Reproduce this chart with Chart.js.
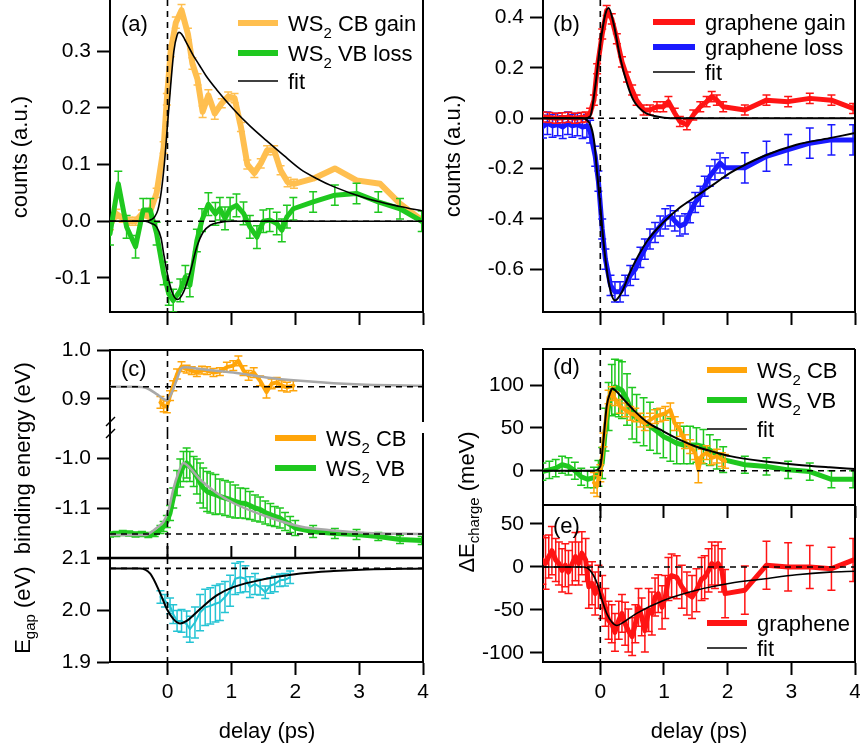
<!DOCTYPE html>
<html>
<head>
<meta charset="utf-8">
<title>WS2 / graphene charge transfer dynamics</title>
<script src="https://cdn.jsdelivr.net/npm/chart.js@4.4.1/dist/chart.umd.min.js"></script>
<style>
  body { margin: 0; background: #fff; }
  #fig { position: relative; width: 860px; height: 751px; }
  #fig canvas { position: absolute; top: 0; }
  .left { left: 0; }
  .right { left: 430px; }
</style>
</head>
<body>
<div id="fig">
  <canvas id="pa" class="left" width="430" height="751"></canvas>
  <canvas id="pcCB" class="left" width="430" height="751"></canvas>
  <canvas id="pcVB" class="left" width="430" height="751"></canvas>
  <canvas id="pcGap" class="left" width="430" height="751"></canvas>
  <canvas id="pb" class="right" width="430" height="751"></canvas>
  <canvas id="pd" class="right" width="430" height="751"></canvas>
  <canvas id="pe" class="right" width="430" height="751"></canvas>
</div>
<script>
// ---------- data (delay in ps) ----------
const delayTicks = [0, 1, 2, 3, 4];

// (a) WS2 CB gain / VB loss, counts (a.u.)
const aTicks = [-0.1, 0, 0.1, 0.2, 0.3];
const aCbDelay = [-0.9, -0.8, -0.7, -0.6, -0.5, -0.4, -0.3, -0.17, -0.06, -0.01, 0.05, 0.13, 0.22, 0.32, 0.39, 0.47, 0.55, 0.64, 0.74, 0.85, 0.95, 1.05, 1.15, 1.25, 1.36, 1.46, 1.56, 1.67, 1.77, 1.88, 1.98, 2.28, 2.62, 2.96, 3.33, 3.64, 3.98];
const aCbGain = [-0.007, 0.013, 0.005, 0.0, 0.0, 0.013, 0.008, 0.05, 0.13, 0.215, 0.3, 0.35, 0.372, 0.33, 0.278, 0.25, 0.193, 0.222, 0.19, 0.208, 0.22, 0.217, 0.166, 0.1, 0.085, 0.102, 0.125, 0.125, 0.09, 0.069, 0.066, 0.075, 0.093, 0.072, 0.066, 0.031, 0.002];
const aCbErr = [0.008, 0.008, 0.007, 0.007, 0.007, 0.007, 0.007, 0.008, 0.01, 0.01, 0.01, 0.01, 0.01, 0.01, 0.01, 0.01, 0.01, 0.01, 0.01, 0.008, 0.008, 0.008, 0.008, 0.008, 0.008, 0.008, 0.008, 0.008, 0.008, 0.008, 0.008, 0, 0, 0, 0, 0, 0];
const aVbDelay = [-0.9, -0.77, -0.64, -0.5, -0.38, -0.27, -0.17, -0.06, 0.02, 0.09, 0.2, 0.28, 0.35, 0.46, 0.54, 0.64, 0.75, 0.82, 0.9, 0.98, 1.08, 1.19, 1.29, 1.4, 1.5, 1.6, 1.71, 1.79, 1.87, 1.97, 2.28, 2.62, 2.96, 3.3, 3.64, 3.98];
const aVbLoss = [-0.022, 0.066, -0.01, -0.045, 0.02, 0.02, -0.022, -0.092, -0.128, -0.14, -0.122, -0.098, -0.113, -0.034, 0.002, 0.03, 0.013, 0.022, 0.005, 0.022, 0.028, 0.014, -0.01, -0.028, 0.0, 0.002, -0.004, -0.016, 0.008, 0.022, 0.034, 0.046, 0.049, 0.034, 0.022, 0.0];
const aVbErr = [0.02, 0.022, 0.02, 0.02, 0.02, 0.02, 0.02, 0.02, 0.02, 0.02, 0.02, 0.02, 0.02, 0.02, 0.02, 0.02, 0.02, 0.02, 0.02, 0.02, 0.02, 0.02, 0.02, 0.02, 0.02, 0.02, 0.02, 0.02, 0.02, 0.02, 0.018, 0.018, 0.018, 0.018, 0.018, 0.018];
const aFitCbDelay = [-0.9, -0.4, -0.3, -0.25, -0.2, -0.15, -0.1, -0.05, 0, 0.05, 0.1, 0.15, 0.18, 0.22, 0.3, 0.4, 0.5, 0.6, 0.77, 1.03, 1.29, 1.55, 1.82, 2.08, 2.34, 2.6, 3.12, 3.64, 4.0];
const aFitCb = [0, 0, 0.001, 0.003, 0.008, 0.02, 0.05, 0.1, 0.17, 0.24, 0.3, 0.328, 0.333, 0.33, 0.314, 0.293, 0.275, 0.257, 0.232, 0.198, 0.168, 0.142, 0.116, 0.092, 0.075, 0.061, 0.04, 0.026, 0.018];
const aFitVbDelay = [-0.9, -0.35, -0.25, -0.17, -0.1, -0.06, 0.02, 0.09, 0.16, 0.25, 0.35, 0.46, 0.56, 0.67, 0.82, 1.0, 4.0];
const aFitVb = [0, 0, -0.004, -0.01, -0.03, -0.057, -0.104, -0.13, -0.138, -0.125, -0.092, -0.045, -0.019, -0.007, -0.002, 0, 0];

// (b) graphene gain / loss, counts (a.u.)
const bTicks = [-0.6, -0.4, -0.2, 0, 0.2, 0.4];
const bGainDelay = [-0.9, -0.8, -0.7, -0.6, -0.5, -0.4, -0.3, -0.23, -0.16, -0.1, -0.05, 0.03, 0.1, 0.18, 0.26, 0.34, 0.42, 0.5, 0.57, 0.68, 0.78, 0.89, 0.99, 1.07, 1.17, 1.25, 1.36, 1.46, 1.57, 1.67, 1.75, 1.83, 1.93, 2.27, 2.61, 2.95, 3.29, 3.63, 3.97];
const bGain = [0.005, 0.003, 0.0, 0.002, 0.004, 0.0, 0.003, 0.005, 0.02, 0.072, 0.197, 0.335, 0.428, 0.395, 0.316, 0.224, 0.164, 0.112, 0.072, 0.033, 0.033, 0.046, 0.046, 0.066, 0.02, -0.013, -0.026, 0.013, 0.046, 0.066, 0.086, 0.072, 0.046, 0.033, 0.072, 0.066, 0.079, 0.072, 0.039];
const bGainErr = [0.02, 0.02, 0.02, 0.02, 0.02, 0.02, 0.02, 0.02, 0.02, 0.02, 0.02, 0.02, 0.02, 0.02, 0.02, 0.02, 0.02, 0.02, 0.02, 0.02, 0.02, 0.02, 0.02, 0.02, 0.02, 0.02, 0.02, 0.02, 0.02, 0.02, 0.02, 0.02, 0.02, 0.02, 0.02, 0.02, 0.02, 0.02, 0.02];
const bLossDelay = [-0.9, -0.83, -0.75, -0.67, -0.59, -0.51, -0.44, -0.36, -0.28, -0.21, -0.16, -0.08, -0.03, 0.03, 0.08, 0.16, 0.23, 0.31, 0.39, 0.47, 0.55, 0.63, 0.7, 0.78, 0.86, 0.94, 1.02, 1.1, 1.17, 1.25, 1.33, 1.41, 1.49, 1.57, 1.64, 1.72, 1.8, 1.88, 1.96, 2.27, 2.61, 2.95, 3.29, 3.63, 3.97];
const bLoss = [-0.033, -0.02, -0.03, -0.025, -0.035, -0.02, -0.03, -0.025, -0.035, -0.03, -0.053, -0.151, -0.25, -0.44, -0.56, -0.664, -0.69, -0.69, -0.664, -0.625, -0.6, -0.553, -0.52, -0.48, -0.454, -0.428, -0.4, -0.388, -0.408, -0.428, -0.42, -0.375, -0.335, -0.31, -0.27, -0.23, -0.204, -0.178, -0.197, -0.197, -0.151, -0.125, -0.099, -0.086, -0.086];
const bLossErr = [0.045, 0.045, 0.045, 0.045, 0.045, 0.045, 0.045, 0.045, 0.045, 0.045, 0.045, 0.04, 0.04, 0.04, 0.04, 0.04, 0.04, 0.04, 0.04, 0.04, 0.04, 0.04, 0.04, 0.04, 0.04, 0.04, 0.04, 0.04, 0.04, 0.04, 0.04, 0.04, 0.04, 0.04, 0.04, 0.04, 0.04, 0.04, 0.04, 0.06, 0.06, 0.06, 0.06, 0.06, 0.06];
const bFitGainDelay = [-0.9, -0.25, -0.16, -0.08, 0, 0.08, 0.13, 0.21, 0.31, 0.42, 0.52, 0.68, 0.89, 1.1, 4.0];
const bFitGain = [0, 0, 0.007, 0.125, 0.296, 0.414, 0.438, 0.375, 0.243, 0.138, 0.072, 0.026, 0.007, 0, 0];
const bFitLossDelay = [-0.9, -0.3, -0.21, -0.1, -0.05, 0, 0.05, 0.13, 0.23, 0.34, 0.47, 0.73, 0.99, 1.25, 1.51, 1.78, 2.04, 2.56, 3.08, 3.6, 4.0];
const bFitLoss = [0, 0, -0.007, -0.086, -0.217, -0.35, -0.49, -0.65, -0.724, -0.69, -0.61, -0.49, -0.414, -0.355, -0.31, -0.263, -0.217, -0.151, -0.105, -0.079, -0.059];

// (c) binding energy (eV): WS2 CB and VB, and gap
const cCbTicks = [0.9, 1.0];
const cVbTicks = [-1.1, -1.0];
const cGapTicks = [1.9, 2.0, 2.1];
const cCbDelay = [-0.11, -0.06, -0.01, 0.04, 0.09, 0.15, 0.22, 0.3, 0.38, 0.46, 0.54, 0.62, 0.72, 0.82, 0.93, 1.03, 1.11, 1.19, 1.27, 1.35, 1.45, 1.55, 1.63, 1.71, 1.79, 1.87, 1.97];
const cCb = [0.893, 0.886, 0.884, 0.907, 0.927, 0.951, 0.966, 0.961, 0.958, 0.954, 0.959, 0.958, 0.954, 0.956, 0.965, 0.968, 0.978, 0.958, 0.948, 0.954, 0.937, 0.914, 0.931, 0.934, 0.927, 0.924, 0.927];
const cCbErr = [0.012, 0.012, 0.012, 0.01, 0.01, 0.01, 0.01, 0.008, 0.008, 0.008, 0.008, 0.008, 0.008, 0.008, 0.01, 0.01, 0.01, 0.01, 0.01, 0.01, 0.01, 0.012, 0.01, 0.01, 0.01, 0.01, 0.01];
const cFitCbDelay = [-0.9, -0.5, -0.32, -0.17, -0.06, -0.01, 0.07, 0.15, 0.22, 0.28, 0.51, 1.03, 1.55, 2.08, 2.6, 3.12, 4.0];
const cFitCb = [0.925, 0.925, 0.922, 0.91, 0.9, 0.897, 0.914, 0.941, 0.963, 0.965, 0.961, 0.954, 0.944, 0.937, 0.932, 0.929, 0.927];
const cVbDelay = [-0.9, -0.8, -0.7, -0.6, -0.5, -0.4, -0.3, -0.2, -0.11, -0.06, -0.01, 0.04, 0.09, 0.15, 0.2, 0.25, 0.3, 0.35, 0.41, 0.46, 0.51, 0.56, 0.62, 0.67, 0.75, 0.82, 0.9, 0.98, 1.06, 1.14, 1.22, 1.29, 1.37, 1.45, 1.53, 1.61, 1.68, 1.76, 1.84, 1.92, 2.0, 2.28, 2.62, 2.96, 3.3, 3.64, 3.98];
const cVb = [-1.153, -1.152, -1.15, -1.151, -1.153, -1.152, -1.154, -1.152, -1.143, -1.137, -1.127, -1.11, -1.08, -1.05, -1.03, -1.017, -1.01, -1.017, -1.027, -1.037, -1.05, -1.06, -1.067, -1.07, -1.073, -1.077, -1.08, -1.083, -1.087, -1.09, -1.091, -1.095, -1.1, -1.103, -1.109, -1.113, -1.117, -1.12, -1.127, -1.133, -1.14, -1.147, -1.151, -1.153, -1.157, -1.163, -1.165];
const cVbErr = [0.005, 0.005, 0.005, 0.005, 0.005, 0.005, 0.005, 0.005, 0.008, 0.01, 0.012, 0.015, 0.02, 0.025, 0.028, 0.03, 0.03, 0.03, 0.03, 0.035, 0.04, 0.04, 0.04, 0.04, 0.04, 0.035, 0.035, 0.035, 0.033, 0.03, 0.03, 0.028, 0.026, 0.025, 0.023, 0.022, 0.02, 0.02, 0.018, 0.016, 0.015, 0.012, 0.01, 0.01, 0.008, 0.008, 0.008];
const cFitVbDelay = [-0.9, -0.35, -0.17, -0.06, 0.02, 0.09, 0.17, 0.25, 0.33, 0.51, 0.77, 1.03, 1.55, 2.08, 2.6, 3.12, 4.0];
const cFitVb = [-1.154, -1.154, -1.14, -1.127, -1.103, -1.063, -1.03, -1.01, -1.017, -1.043, -1.07, -1.09, -1.117, -1.137, -1.145, -1.15, -1.152];
const cGapDelay = [-0.11, -0.04, 0.04, 0.09, 0.15, 0.22, 0.3, 0.35, 0.43, 0.51, 0.59, 0.67, 0.75, 0.82, 0.9, 0.98, 1.06, 1.14, 1.22, 1.29, 1.37, 1.45, 1.53, 1.61, 1.68, 1.76, 1.84, 1.92];
const cGap = [2.025, 2.018, 2.008, 1.992, 1.979, 1.979, 1.973, 1.963, 1.976, 1.995, 2.005, 2.008, 2.012, 2.015, 2.025, 2.037, 2.06, 2.063, 2.06, 2.044, 2.05, 2.044, 2.034, 2.047, 2.05, 2.057, 2.058, 2.063];
const cGapErr = [0.012, 0.012, 0.015, 0.018, 0.02, 0.022, 0.025, 0.025, 0.03, 0.035, 0.035, 0.035, 0.035, 0.035, 0.03, 0.03, 0.03, 0.03, 0.025, 0.02, 0.02, 0.015, 0.012, 0.015, 0.015, 0.012, 0.012, 0.012];
const cFitGapDelay = [-0.9, -0.43, -0.27, -0.11, -0.01, 0.09, 0.2, 0.3, 0.51, 0.77, 1.03, 1.55, 2.08, 2.6, 3.12, 4.0];
const cFitGap = [2.08, 2.08, 2.07, 2.031, 2.002, 1.983, 1.974, 1.979, 2.002, 2.028, 2.044, 2.06, 2.07, 2.075, 2.078, 2.08];

// (d) ΔE_charge (meV) for WS2 CB / VB
const dTicks = [0, 50, 100];
const dCbDelay = [-0.1, -0.05, 0, 0.05, 0.13, 0.18, 0.23, 0.31, 0.39, 0.47, 0.55, 0.63, 0.7, 0.78, 0.86, 0.94, 1.02, 1.1, 1.17, 1.25, 1.33, 1.41, 1.49, 1.54, 1.59, 1.67, 1.75, 1.83, 1.91, 1.96];
const dCb = [-14, -18, -3, 36, 86, 90, 84, 75, 71, 67, 65, 59, 55, 59, 63, 65, 67, 71, 55, 48, 34, 28, 21, 1, 17, 21, 15, 17, 13, 11];
const dCbErr = [12, 12, 10, 8, 8, 8, 8, 8, 8, 8, 8, 8, 8, 8, 8, 8, 8, 8, 8, 8, 8, 8, 8, 15, 8, 8, 8, 8, 8, 8];
const dVbDelay = [-0.91, -0.8, -0.7, -0.6, -0.5, -0.4, -0.3, -0.2, -0.1, -0.03, 0.03, 0.08, 0.13, 0.18, 0.23, 0.29, 0.34, 0.42, 0.5, 0.57, 0.68, 0.78, 0.89, 0.99, 1.1, 1.2, 1.31, 1.41, 1.51, 1.62, 1.72, 1.83, 1.93, 2.27, 2.61, 2.95, 3.29, 3.63, 3.97];
const dVb = [-1, 1, 3, 7, 5, 0, -7, -10, -8, -3, 9, 48, 75, 94, 98, 96, 94, 83, 67, 61, 57, 52, 46, 40, 36, 32, 30, 30, 30, 28, 24, 19, 13, 7, 5, 1, -1, -10, -10];
const dVbErr = [10, 10, 10, 10, 10, 10, 10, 10, 12, 15, 18, 25, 28, 30, 32, 33, 33, 30, 30, 28, 28, 28, 26, 25, 25, 24, 22, 22, 20, 20, 18, 17, 15, 10, 10, 10, 10, 10, 10];
const dFitDelay = [-0.9, -0.1, 0, 0.05, 0.1, 0.16, 0.19, 0.26, 0.37, 0.52, 0.73, 0.99, 1.25, 1.51, 1.78, 2.04, 2.56, 3.08, 3.6, 4.0];
const dFit = [0, 0, 5, 36, 75, 92, 96, 92, 83, 71, 57, 46, 36, 28, 22, 17, 11, 7, 4, 2];

// (e) ΔE_charge (meV) for graphene
const eTicks = [-100, -50, 0, 50];
const eDelay = [-0.91, -0.86, -0.81, -0.76, -0.7, -0.65, -0.6, -0.55, -0.5, -0.44, -0.39, -0.34, -0.29, -0.23, -0.18, -0.13, -0.08, -0.03, 0.03, 0.08, 0.13, 0.18, 0.23, 0.29, 0.34, 0.39, 0.44, 0.5, 0.55, 0.6, 0.65, 0.7, 0.76, 0.81, 0.86, 0.91, 0.97, 1.02, 1.07, 1.12, 1.2, 1.28, 1.36, 1.44, 1.51, 1.59, 1.64, 1.7, 1.75, 1.8, 1.85, 1.91, 1.96, 2.27, 2.61, 2.95, 3.29, 3.63, 3.97];
const eGraphene = [8, 4, 12, 19, 8, 4, -4, 2, -6, 4, 12, 4, 16, 8, -23, -19, -31, -23, -35, -47, -62, -66, -76, -62, -54, -66, -74, -81, -66, -47, -58, -74, -50, -54, -35, -31, -47, -35, -14, -10, -12, -23, -31, -35, -27, -14, -12, -4, 4, 0, 4, -4, -31, -27, 2, 0, 0, -2, 8];
const eErr = [28, 30, 25, 28, 25, 25, 25, 25, 25, 25, 28, 25, 25, 25, 25, 25, 25, 25, 25, 22, 22, 22, 22, 22, 22, 25, 25, 22, 22, 22, 22, 25, 25, 25, 22, 22, 25, 25, 25, 25, 25, 25, 25, 25, 25, 25, 25, 25, 25, 25, 25, 25, 28, 28, 28, 28, 25, 25, 25];
const eFitDelay = [-0.9, -0.26, -0.16, -0.05, 0.03, 0.1, 0.18, 0.26, 0.37, 0.57, 0.99, 1.51, 2.04, 2.56, 3.08, 3.6, 4.0];
const eFit = [0, 0, -4, -19, -39, -54, -64, -68, -64, -54, -39, -27, -19, -14, -9, -6, -5];

// ---------- styling ----------
const F = '"Liberation Sans", Arial, Helvetica, sans-serif';
const ORANGE_A = '#ffbf4f';
const ORANGE = '#ffa50a';
const GREEN = '#1fc81f';
const RED = '#ff1414';
const BLUE = '#1a1aff';
const CYAN = '#24c4d4';
const GRAY = '#a8a8a8';

Chart.defaults.font.family = F;
Chart.defaults.color = '#000';

const WS2 = [['WS', 0], ['2', 1]];

// frame bits, legends, labels that sit around each panel (canvas coordinates)
const DECO = {
  pa: {
    right: true, hDash: 0,
    label: ['(a)', 121, 25],
    legend: { x1: 238, x2: 278, items: [
      { c: ORANGE_A, w: 6, y: 23, t: [...WS2, [' CB gain', 0]] },
      { c: GREEN, w: 6, y: 53, t: [...WS2, [' VB loss', 0]] },
      { c: '#000', w: 1.5, y: 81, t: [['fit', 0]] }
    ] },
    titles: [{ t: [['counts (a.u.)', 0]], x: 21, y: 157, rot: true }]
  },
  pb: {
    right: true, hDash: 0,
    label: ['(b)', 123, 25],
    legend: { x1: 223, x2: 265, items: [
      { c: RED, w: 6, y: 22, t: [['graphene gain', 0]] },
      { c: BLUE, w: 6, y: 47, t: [['graphene loss', 0]] },
      { c: '#000', w: 1.5, y: 72, t: [['fit', 0]] }
    ] },
    titles: [{ t: [['counts (a.u.)', 0]], x: 24, y: 156, rot: true }]
  },
  pcCB: { right: true, top: 2, hDash: 0.925, vExt: 12, brk: 12, label: ['(c)', 121, 370] },
  pcVB: {
    right: true, hDash: -1.152, inTicks: true,
    legend: { x1: 275, x2: 316, items: [
      { c: ORANGE, w: 6, y: 438, t: [...WS2, [' CB', 0]] },
      { c: GREEN, w: 6, y: 468, t: [...WS2, [' VB', 0]] }
    ] }
  },
  pcGap: {
    right: true, top: 2.5, topExt: 13, hDash: 2.08,
    titles: [
      { t: [['E', 0], ['gap', 1], [' (eV)  binding energy (eV)', 0]], x: 24, y: 508, rot: true },
      { t: [['delay (ps)', 0]], x: 267, y: 738 }
    ]
  },
  pd: {
    right: true, top: 2, hDash: 0,
    label: ['(d)', 123, 368],
    legend: { x1: 277, x2: 317, items: [
      { c: ORANGE, w: 6, y: 370, t: [...WS2, [' CB', 0]] },
      { c: GREEN, w: 6, y: 400, t: [...WS2, [' VB', 0]] },
      { c: '#000', w: 1.5, y: 429, t: [['fit', 0]] }
    ] }
  },
  pe: {
    right: true, hDash: 0,
    label: ['(e)', 123, 527],
    legend: { x1: 277, x2: 317, items: [
      { c: RED, w: 6, y: 623, t: [['graphene', 0]] },
      { c: '#000', w: 1.5, y: 648, t: [['fit', 0]] }
    ] },
    titles: [
      { t: [['ΔE', 0], ['charge', 1], [' (meV)', 0]], x: 38, y: 502, rot: true },
      { t: [['delay (ps)', 0]], x: 269, y: 738 }
    ]
  }
};

function seg(ctx, x1, y1, x2, y2) {
  ctx.beginPath();
  ctx.moveTo(x1, y1);
  ctx.lineTo(x2, y2);
  ctx.stroke();
}

// text with subscripts: parts = [[text, isSub], ...]
function rich(ctx, parts, x, y, size, align) {
  const fontOf = sub => (sub ? Math.round(size * 0.68) : size) + 'px ' + F;
  let w = 0;
  parts.forEach(([t, sub]) => { ctx.font = fontOf(sub); w += ctx.measureText(t).width; });
  let cx = align === 'center' ? x - w / 2 : x;
  parts.forEach(([t, sub]) => {
    ctx.font = fontOf(sub);
    ctx.fillText(t, cx, sub ? y + size * 0.3 : y);
    cx += ctx.measureText(t).width;
  });
}

const deco = {
  id: 'deco',
  // error bars, drawn right after their own trace
  afterDatasetDraw(chart, args) {
    const ds = chart.data.datasets[args.index];
    if (!ds.err) return;
    const { ctx, chartArea: a, scales: { x, y } } = chart;
    ctx.save();
    ctx.beginPath();
    ctx.rect(a.left, a.top, a.right - a.left, a.bottom - a.top);
    ctx.clip();
    ctx.strokeStyle = ds.borderColor;
    ctx.lineWidth = 1.5;
    ds.data.forEach((p, i) => {
      const e = ds.err[i];
      if (!e) return;
      const px = x.getPixelForValue(p.x);
      const lo = y.getPixelForValue(p.y - e);
      const hi = y.getPixelForValue(p.y + e);
      ctx.beginPath();
      ctx.moveTo(px, lo); ctx.lineTo(px, hi);
      ctx.moveTo(px - 4, lo); ctx.lineTo(px + 4, lo);
      ctx.moveTo(px - 4, hi); ctx.lineTo(px + 4, hi);
      ctx.stroke();
    });
    ctx.restore();
  },
  afterDatasetsDraw(chart) {
    const d = DECO[chart.canvas.id];
    const { ctx, chartArea: a, scales: { x, y } } = chart;
    ctx.save();
    ctx.strokeStyle = '#000';
    ctx.lineWidth = 1.6;
    ctx.setLineDash([6, 5]);
    const x0 = x.getPixelForValue(0);
    seg(ctx, x0, a.top, x0, a.bottom + (d.vExt || 0));
    if (d.hDash !== undefined) {
      const yy = y.getPixelForValue(d.hDash);
      seg(ctx, a.left, yy, a.right, yy);
    }
    ctx.restore();
  },
  afterDraw(chart) {
    const d = DECO[chart.canvas.id];
    const { ctx, chartArea: a, scales: { x } } = chart;
    ctx.save();
    ctx.strokeStyle = '#000';
    ctx.fillStyle = '#000';
    ctx.lineWidth = 2;
    if (d.right) seg(ctx, a.right, a.top, a.right, a.bottom);
    if (d.top) {
      ctx.lineWidth = d.top;
      seg(ctx, a.left - (d.topExt || 0), a.top, a.right, a.top);
      ctx.lineWidth = 2;
    }
    if (d.brk) {
      // axis break between CB and VB sections
      seg(ctx, a.left, a.bottom, a.left, a.bottom + d.brk);
      ctx.lineWidth = 1.5;
      seg(ctx, a.left - 4, a.bottom + 4, a.left + 5, a.bottom - 5);
      seg(ctx, a.left - 4, a.bottom + 16, a.left + 5, a.bottom + 7);
      ctx.lineWidth = 2;
    }
    if (d.inTicks) {
      delayTicks.forEach(v => {
        const px = x.getPixelForValue(v);
        seg(ctx, px, a.bottom, px, a.bottom - 12);
      });
    }
    if (d.label) {
      ctx.textBaseline = 'middle';
      ctx.font = '22px ' + F;
      ctx.fillText(d.label[0], d.label[1], d.label[2]);
    }
    ctx.textBaseline = 'alphabetic';
    if (d.legend) {
      const L = d.legend;
      L.items.forEach(it => {
        ctx.strokeStyle = it.c;
        ctx.lineWidth = it.w;
        seg(ctx, L.x1, it.y, L.x2, it.y);
        rich(ctx, it.t, L.x2 + 10, it.y + 8, 22, 'left');
      });
    }
    (d.titles || []).forEach(t => {
      ctx.save();
      ctx.translate(t.x, t.y);
      if (t.rot) {
        ctx.rotate(-Math.PI / 2);
        ctx.textBaseline = 'middle';
      }
      rich(ctx, t.t, 0, 0, 22, 'center');
      ctx.restore();
    });
    ctx.restore();
  }
};

function pts(xs, ys) {
  return xs.map((x, i) => ({ x, y: ys[i] }));
}

function trace(xs, ys, err, color, width) {
  return {
    data: pts(xs, ys), err, borderColor: color, borderWidth: width,
    pointRadius: 0, tension: 0, borderJoinStyle: 'round', borderCapStyle: 'round'
  };
}

function fit(xs, ys, color, width) {
  return {
    data: pts(xs, ys), borderColor: color, borderWidth: width,
    pointRadius: 0, cubicInterpolationMode: 'monotone'
  };
}

// force axis boxes to a fixed size so every plot area lands where it should
function fixSize(n) {
  return s => {
    if (s.isHorizontal()) s.height = n; else s.width = n;
    s.paddingLeft = s.paddingRight = s.paddingTop = s.paddingBottom = 0;
  };
}

const axisGrid = drawTicks => ({
  display: true, drawOnChartArea: false, drawTicks,
  tickLength: 13, tickWidth: 2, tickColor: '#000'
});
const axisBorder = { display: true, color: '#000', width: 2 };

// box = [left, top, right, bottom] of the plot area inside its 430x751 canvas
function panel(id, p) {
  const xH = p.xH || 0;
  const [L, T, R, B] = p.box;
  return new Chart(document.getElementById(id), {
    type: 'line',
    data: { datasets: p.datasets },
    plugins: [deco],
    options: {
      responsive: false,
      animation: false,
      events: [],
      layout: { padding: { left: 0, top: T, right: 430 - R, bottom: 751 - B - xH } },
      plugins: { legend: { display: false }, tooltip: { enabled: false } },
      scales: {
        x: {
          type: 'linear', min: -0.9, max: 4,
          display: p.xShow !== false,
          afterFit: fixSize(xH),
          afterBuildTicks: s => { s.ticks = delayTicks.map(v => ({ value: v })); },
          grid: axisGrid(!!p.xTicks),
          border: axisBorder,
          ticks: { display: !!p.xLabels, padding: 5, maxRotation: 0, font: { size: 21 }, color: '#000' }
        },
        y: {
          type: 'linear', min: p.yMin, max: p.yMax,
          afterFit: fixSize(L),
          afterBuildTicks: s => { s.ticks = p.yTicks.map(v => ({ value: v })); },
          grid: axisGrid(true),
          border: axisBorder,
          ticks: { padding: 6, font: { size: 21 }, color: '#000', callback: p.fmt }
        }
      }
    }
  });
}

const oneDec = v => v.toFixed(1);
const whole = v => String(v);

panel('pa', {
  box: [110, 0, 423, 312], xH: 20, xTicks: true,
  yMin: -0.16, yMax: 0.39, yTicks: aTicks, fmt: oneDec,
  datasets: [
    fit(aFitCbDelay, aFitCb, '#000', 1.6),
    fit(aFitVbDelay, aFitVb, '#000', 1.6),
    trace(aVbDelay, aVbLoss, aVbErr, GREEN, 5),
    trace(aCbDelay, aCbGain, aCbErr, ORANGE_A, 6)
  ]
});

panel('pb', {
  box: [113, 0, 425, 312], xH: 20, xTicks: true,
  yMin: -0.77, yMax: 0.47, yTicks: bTicks, fmt: oneDec,
  datasets: [
    fit(bFitGainDelay, bFitGain, '#000', 2),
    fit(bFitLossDelay, bFitLoss, '#000', 2),
    trace(bGainDelay, bGain, bGainErr, RED, 5),
    trace(bLossDelay, bLoss, bLossErr, BLUE, 5)
  ]
});

panel('pcCB', {
  box: [110, 350, 423, 422], xShow: false,
  yMin: 0.853, yMax: 1.0, yTicks: cCbTicks, fmt: oneDec,
  datasets: [
    fit(cFitCbDelay, cFitCb, GRAY, 2.5),
    trace(cCbDelay, cCb, cCbErr, ORANGE, 4)
  ]
});

panel('pcVB', {
  box: [110, 433, 423, 558], xH: 0,
  yMin: -1.2, yMax: -0.95, yTicks: cVbTicks, fmt: oneDec,
  datasets: [
    fit(cFitVbDelay, cFitVb, GRAY, 2.5),
    trace(cVbDelay, cVb, cVbErr, GREEN, 5)
  ]
});

panel('pcGap', {
  box: [110, 558, 423, 662], xH: 60, xTicks: true, xLabels: true,
  yMin: 1.9, yMax: 2.1, yTicks: cGapTicks, fmt: oneDec,
  datasets: [
    fit(cFitGapDelay, cFitGap, '#000', 2),
    trace(cGapDelay, cGap, cGapErr, CYAN, 2)
  ]
});

panel('pd', {
  box: [113, 349, 425, 505], xH: 20, xTicks: true,
  yMin: -40, yMax: 142, yTicks: dTicks, fmt: whole,
  datasets: [
    fit(dFitDelay, dFit, '#000', 2),
    trace(dCbDelay, dCb, dCbErr, ORANGE, 4),
    trace(dVbDelay, dVb, dVbErr, GREEN, 5)
  ]
});

panel('pe', {
  box: [113, 505, 425, 662], xH: 60, xTicks: true, xLabels: true,
  yMin: -110.5, yMax: 72, yTicks: eTicks, fmt: whole,
  datasets: [
    fit(eFitDelay, eFit, '#000', 1.6),
    trace(eDelay, eGraphene, eErr, RED, 5)
  ]
});
</script>
</body>
</html>
